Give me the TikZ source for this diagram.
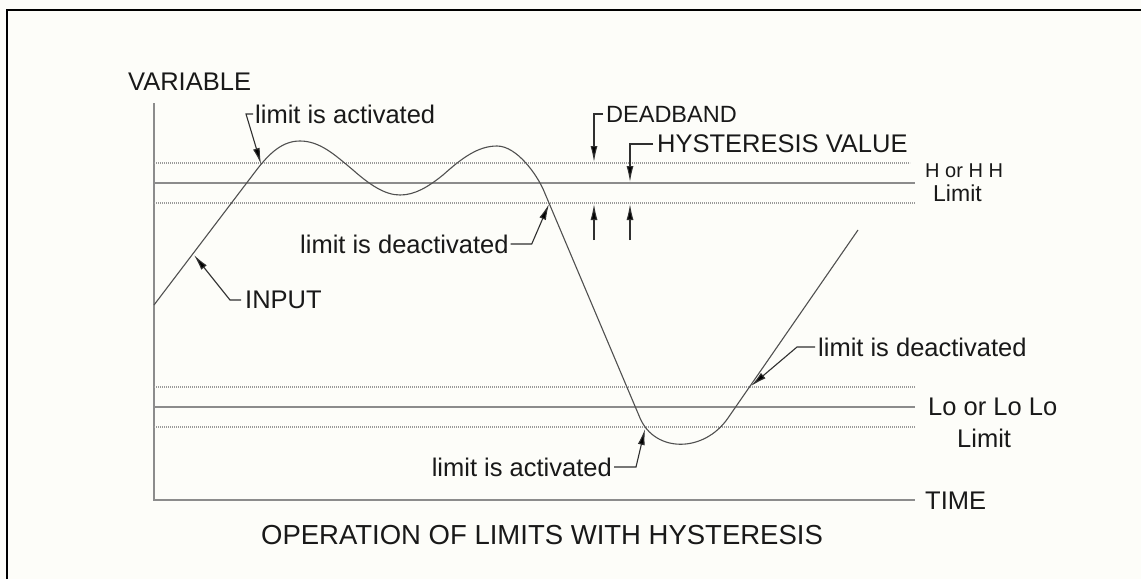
\documentclass[tikz,border=0pt]{standalone}
\usepackage{fontspec}
\setmainfont{Liberation Sans}
\usetikzlibrary{arrows.meta}
\definecolor{bg}{HTML}{FDFDF9}
\definecolor{axisgray}{HTML}{8C8C8C}
\definecolor{dotgray}{HTML}{9A9A9A}
\definecolor{curvegray}{HTML}{505050}
\definecolor{leadgray}{HTML}{303030}
\tikzset{
  txt/.style={inner sep=0pt, font=\fontsize{25.5}{29}\selectfont, text=black!90},
  smalltxt/.style={inner sep=0pt, font=\fontsize{20}{23}\selectfont, text=black!90},
  axisline/.style={draw=axisgray, line width=1.6pt},
  limitline/.style={draw=axisgray, line width=1.6pt},
  bandline/.style={draw=dotgray, line width=1.6pt, dash pattern=on 1.2pt off 0.8pt},
  curve/.style={draw=curvegray, line width=1.1pt, line join=round},
  lead/.style={draw=leadgray, line width=1.1pt},
  arr/.style={lead, -{Latex[length=16pt,width=7pt,fill=black]}},
}
\begin{document}
\begin{tikzpicture}[x=1pt,y=-1pt]
\useasboundingbox (0,0) rectangle (1141,579);
\fill[bg] (0,0) rectangle (1141,579);
\draw[line width=2.5pt, black] (7,579) -- (7,10) -- (1141,10);

% axes
\coordinate (ytop) at (154,103);
\coordinate (orig) at (154,500);
\coordinate (xend) at (915,500);
\draw[axisline] (ytop) -- (orig) -- (xend);

% high limit band
\draw[bandline] (154,163) -- (910,163);
\draw[limitline] (154,183) -- (915,183);
\draw[bandline] (154,203) -- (915,203);
% low limit band
\draw[bandline] (154,387) -- (915,387);
\draw[limitline] (154,407) -- (915,407);
\draw[bandline] (154,427) -- (915,427);

% input curve
\draw[curve] (154,305) -- (255,172)
  .. controls (270,152) and (283,141) .. (300,141)
  .. controls (320,141) and (335,155) .. (353,170)
  .. controls (370,185) and (385,195) .. (400,195)
  .. controls (415,195) and (428,187) .. (443,175)
  .. controls (462,158) and (478,146) .. (497,146)
  .. controls (517,146) and (537,175) .. (543.5,190)
  -- (640,418)
  .. controls (655,453) and (704,453) .. (728,418)
  -- (858,230);

% texts
\node[txt, anchor=west] (var) at (128,82) {VARIABLE};
\node[txt, anchor=west] (act1) at (255,114) {limit is activated};
\node[txt, anchor=west] (deact1) at (300,244) {limit is deactivated};
\node[txt, anchor=west] (input) at (245,300) {INPUT};
\node[txt, anchor=west, font=\fontsize{23.5}{27}\selectfont] (dead) at (606,114) {DEADBAND};
\node[txt, anchor=west] (hyst) at (657,144) {HYSTERESIS VALUE};
\node[smalltxt, anchor=west] (hh) at (925,171) {H or H H};
\node[txt, anchor=west, font=\fontsize{23}{26}\selectfont] (hhlim) at (933,193) {Limit};
\node[txt, anchor=west] (deact2) at (818,347) {limit is deactivated};
\node[txt, anchor=west] (lolo) at (928,407) {Lo or Lo Lo};
\node[txt, anchor=west] (lolim) at (957,438) {Limit};
\node[txt, anchor=east] (act2) at (612,467) {limit is activated};
\node[txt, anchor=west] (time) at (925,501) {TIME};
\node[txt, font=\fontsize{27.5}{30}\selectfont] (cap) at (542,535) {OPERATION OF LIMITS WITH HYSTERESIS};

% arrow targets
\coordinate (p1) at (261,164);
\coordinate (p2) at (549,204);
\coordinate (p3) at (194,255);
\coordinate (p4) at (645,429);
\coordinate (p5) at (751,386);
\coordinate (db1) at (594,162);
\coordinate (db2) at (594,204);
\coordinate (db2s) at (594,240);
\coordinate (hv1) at (630,182);
\coordinate (hv2) at (630,204);
\coordinate (hv2s) at (630,240);

% leaders
\draw[arr] ([xshift=-2pt]act1.west) -- ++(-7,0) -- (p1);
\draw[arr] ([xshift=2pt]deact1.east) -- ++(21,0) -- (p2);
\draw[arr] ([xshift=-4pt]input.west) -- ++(-11,0) -- (p3);
\draw[arr] ([xshift=2pt]act2.east) -- ++(22,0) -- (p4);
\draw[arr] ([xshift=-3pt]deact2.west) -- ++(-18,0) -- (p5);
\draw[arr] ([xshift=-3pt]dead.west) -- (db1 |- dead.west) -- (db1);
\draw[arr] (db2s) -- (db2);
\draw[arr] ([xshift=-4pt]hyst.west) -- (hv1 |- hyst.west) -- (hv1);
\draw[arr] (hv2s) -- (hv2);
\end{tikzpicture}
\end{document}
